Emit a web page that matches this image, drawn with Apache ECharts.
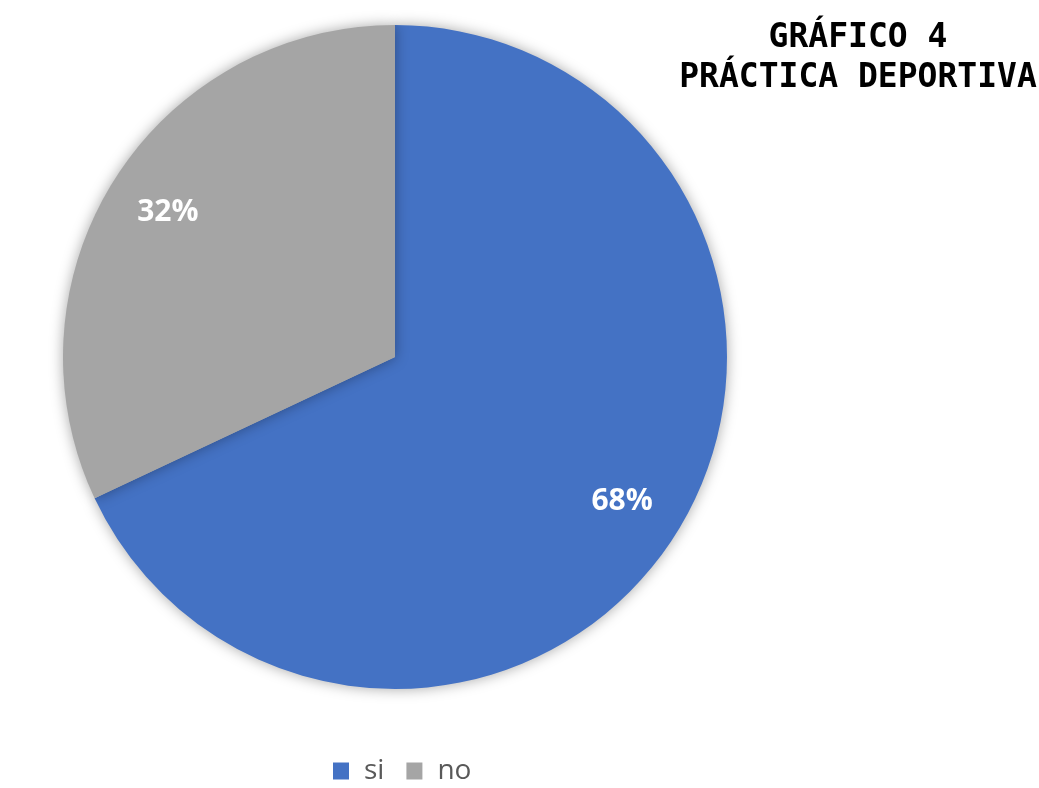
<!DOCTYPE html>
<html><head><meta charset="utf-8">
<script src="https://cdn.jsdelivr.net/npm/echarts@6/dist/echarts.min.js"></script>
<style>html,body{margin:0;padding:0;background:#fff}#c{width:1039px;height:788px}</style>
</head><body><div id="c"></div>
<script>
const categories = ['si', 'no'];
const values = [68, 32];
const colors = ['#4472C4', '#A5A5A5'];
const titleLines = ['GRÁFICO 4', 'PRÁCTICA DEPORTIVA'];

const data = categories.map((n, i) => ({ name: n, value: values[i], itemStyle: { color: colors[i] } }));
const chart = echarts.init(document.getElementById('c'));
chart.setOption({
  animation: false,
  title: {
    text: titleLines.join('\n'),
    left: 853, top: 13,
    textAlign: 'center',
    textStyle: { fontFamily: 'DejaVu Sans Mono', fontWeight: 'bold', fontSize: 33, lineHeight: 40, color: '#000' }
  },
  legend: {
    data: categories,
    left: 328, top: 752,
    itemWidth: 16, itemHeight: 17, itemGap: 22,
    icon: 'rect',
    textStyle: { fontFamily: 'Open Sans', fontSize: 28, color: '#595959', padding: [0, 0, 0, 10] }
  },
  series: [
    {
      type: 'pie', center: [395, 357], radius: [0, 332],
      startAngle: 90, clockwise: true,
      itemStyle: { shadowBlur: 14, shadowColor: 'rgba(0,0,0,0.35)' },
      label: { show: false }, labelLine: { show: false },
      data: data
    },
    {
      type: 'pie', center: [395, 357], radius: [200, 332],
      startAngle: 90, clockwise: true, silent: true,
      itemStyle: { color: 'transparent' },
      label: { show: true, position: 'inside', formatter: '{c}%', color: '#fff', fontFamily: 'Open Sans', fontWeight: 'bold', fontSize: 30 },
      labelLine: { show: false },
      data: categories.map((n, i) => ({ name: n, value: values[i], itemStyle: { color: 'transparent' } }))
    }
  ]
});
</script></body></html>
